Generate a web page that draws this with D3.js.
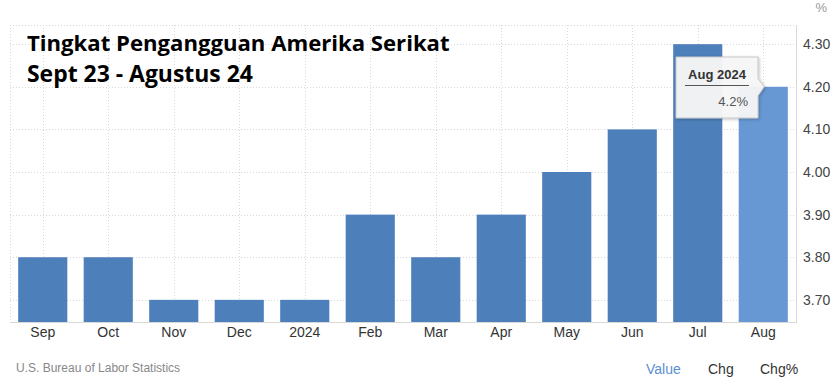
<!DOCTYPE html>
<html>
<head>
<meta charset="utf-8">
<script src="https://cdn.jsdelivr.net/npm/d3@7"></script>
<style>
  html, body { margin: 0; padding: 0; background: #fff; }
  svg { display: block; }
</style>
</head>
<body>
<svg id="chart" width="838" height="384"></svg>
<script>
const categories = ["Sep", "Oct", "Nov", "Dec", "2024", "Feb", "Mar", "Apr", "May", "Jun", "Jul", "Aug"];
const values = [3.8, 3.8, 3.7, 3.7, 3.7, 3.9, 3.8, 3.9, 4.0, 4.1, 4.3, 4.2];
const yTicks = [3.70, 3.80, 3.90, 4.00, 4.10, 4.20, 4.30];
const titleLines = ["Tingkat Pengangguan Amerika Serikat", "Sept 23 - Agustus 24"];
const sourceText = "U.S. Bureau of Labor Statistics";
const tabs = ["Value", "Chg", "Chg%"];
const tooltipTitle = "Aug 2024";
const unit = "%";

(function () {
const svg = d3.select("#chart");
const pL = 10, pR = 796, pT = 25, pB = 322;

const x = d3.scaleBand().domain(categories).range([pL, pR]).paddingInner(0.25).paddingOuter(0.125);
const y = d3.scaleLinear().domain([3.648, 4.345]).range([pB, pT]);

const grid = svg.append("g");
grid.selectAll("line.h").data(yTicks).join("line")
  .attr("x1", pL).attr("x2", pR)
  .attr("y1", d => Math.round(y(d)) + 0.5).attr("y2", d => Math.round(y(d)) + 0.5)
  .attr("stroke", "#d9d9d9").attr("stroke-dasharray", "1,2");
grid.append("line").attr("x1", pL).attr("x2", pR).attr("y1", pT + 0.5).attr("y2", pT + 0.5)
  .attr("stroke", "#d9d9d9").attr("stroke-dasharray", "1,2");
grid.selectAll("line.v").data(categories).join("line")
  .attr("x1", d => Math.round(x(d) + x.bandwidth() / 2) + 0.5)
  .attr("x2", d => Math.round(x(d) + x.bandwidth() / 2) + 0.5)
  .attr("y1", pT).attr("y2", pB)
  .attr("stroke", "#d9d9d9").attr("stroke-dasharray", "1,2");
grid.append("line").attr("x1", pL + 0.5).attr("x2", pL + 0.5).attr("y1", pT).attr("y2", pB)
  .attr("stroke", "#d9d9d9").attr("stroke-dasharray", "1,2");

svg.append("g").selectAll("rect").data(categories).join("rect")
  .attr("x", d => x(d))
  .attr("width", x.bandwidth())
  .attr("y", (d, i) => y(values[i]))
  .attr("height", (d, i) => pB - y(values[i]))
  .attr("fill", (d, i) => i === categories.length - 1 ? "#6798d3" : "#4d7fba");

svg.append("line").attr("x1", pL).attr("x2", pR + 1).attr("y1", pB + 0.5).attr("y2", pB + 0.5)
  .attr("stroke", "#d8d8d8");
svg.append("line").attr("x1", pR + 0.5).attr("x2", pR + 0.5).attr("y1", pT).attr("y2", pB)
  .attr("stroke", "#d8d8d8");

const yAxis = d3.axisRight(y).tickValues(yTicks).tickFormat(d3.format(".2f")).tickSize(0).tickPadding(7);
const ya = svg.append("g").attr("transform", `translate(${pR},0)`).call(yAxis);
ya.select(".domain").remove();
ya.selectAll("text").attr("font-family", "Arial, 'Liberation Sans', sans-serif").attr("font-size", 14).attr("fill", "#444");

svg.append("text").attr("x", 827).attr("y", 12).attr("text-anchor", "end")
  .attr("font-family", "Arial, 'Liberation Sans', sans-serif").attr("font-size", 13).attr("fill", "#999").text(unit);

const xAxis = d3.axisBottom(x).tickSize(0).tickPadding(5);
const xa = svg.append("g").attr("transform", `translate(0,${pB})`).call(xAxis);
xa.select(".domain").remove();
xa.selectAll("text").attr("font-family", "Arial, 'Liberation Sans', sans-serif").attr("font-size", 14).attr("fill", "#333");

const title = svg.append("g");
titleLines.forEach((t, i) => {
  title.append("text").attr("x", 27).attr("y", 51 + i * 31)
    .attr("font-family", "'Open Sans', sans-serif").attr("font-weight", "bold")
    .attr("font-size", 23).attr("fill", "#000").text(t);
});
const targetW = [423, 226];
title.selectAll("text").nodes().forEach((n, i) => {
  const w = n.getComputedTextLength();
  d3.select(n).attr("font-size", 23 * targetW[i] / w);
});

svg.append("text").attr("x", 16).attr("y", 372)
  .attr("font-family", "Arial, 'Liberation Sans', sans-serif").attr("font-size", 12).attr("fill", "#888").text(sourceText);
const tabX = [646, 708, 760];
svg.append("g").selectAll("text").data(tabs).join("text")
  .attr("x", (d, i) => tabX[i]).attr("y", 374)
  .attr("font-family", "Arial, 'Liberation Sans', sans-serif").attr("font-size", 14)
  .attr("fill", (d, i) => i === 0 ? "#5b8fd0" : "#333").text(d => d);

const last = categories.length - 1;
const tipX = x(categories[last]) + x.bandwidth() / 2 + 1;
const tipY = y(values[last]);
const bx0 = 676, bx1 = 758, by0 = 57, by1 = 118;
const tipPath = `M${bx0},${by0} L${bx1},${by0} L${bx1},${tipY - 8} L${tipX},${tipY} L${bx1},${tipY + 9} L${bx1},${by1} L${bx0},${by1} Z`;
const defs = svg.append("defs");
const f = defs.append("filter").attr("id", "sh").attr("x", "-20%").attr("y", "-20%").attr("width", "150%").attr("height", "150%");
f.append("feDropShadow").attr("dx", 1).attr("dy", 1).attr("stdDeviation", 1.5).attr("flood-color", "#000").attr("flood-opacity", 0.25);
svg.append("path").attr("d", tipPath).attr("fill", "#f7f7f7").attr("fill-opacity", 0.95)
  .attr("stroke", "#c8c8c8").attr("filter", "url(#sh)");
svg.append("text").attr("x", 717).attr("y", 79).attr("text-anchor", "middle")
  .attr("font-family", "Arial, 'Liberation Sans', sans-serif").attr("font-weight", "bold").attr("font-size", 13)
  .attr("fill", "#333").text(tooltipTitle);
svg.append("line").attr("x1", 685).attr("x2", 749).attr("y1", 85.5).attr("y2", 85.5).attr("stroke", "#555");
svg.append("text").attr("x", 748).attr("y", 106).attr("text-anchor", "end")
  .attr("font-family", "Arial, 'Liberation Sans', sans-serif").attr("font-size", 13)
  .attr("fill", "#555").text(d3.format(".1f")(values[last]) + unit);
})();
</script>
</body>
</html>
